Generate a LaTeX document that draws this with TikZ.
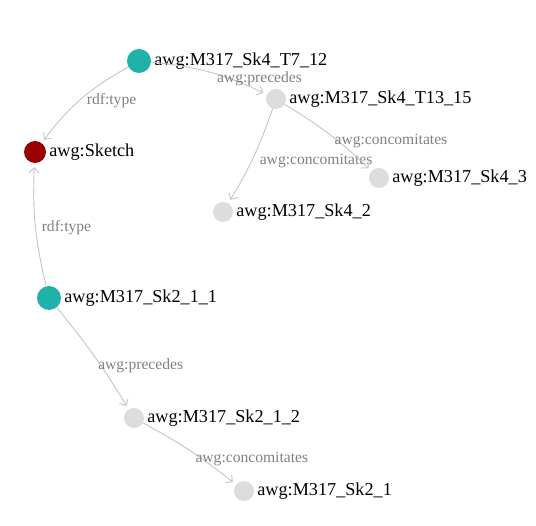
\documentclass[tikz,border=0pt]{standalone}
\usepackage{fontspec}
\setmainfont{Liberation Serif}
\usepackage{tikz}
\usetikzlibrary{arrows.meta,positioning}
\definecolor{awgteal}{HTML}{20B2AA}
\definecolor{awgred}{HTML}{990000}
\definecolor{awggrey}{HTML}{DDDDDD}
\definecolor{awgline}{HTML}{C4C4C4}
\definecolor{awglabel}{HTML}{808080}

\begin{document}
\begin{tikzpicture}[x=1pt,y=-1pt,
  vertex/.style={circle,inner sep=0pt,minimum size=20pt},
  seed/.style={vertex,fill=awgteal,minimum size=24pt},
  classnode/.style={vertex,fill=awgred,minimum size=22pt},
  item/.style={vertex,fill=awggrey},
  nodetext/.style={inner sep=0pt,font=\fontsize{18.2}{20}\selectfont},
  link/.style={draw=awgline,line width=0.9pt,-{Straight Barb[length=5pt,width=10pt]},shorten >=4pt},
  linktext/.style={anchor=base west,inner sep=0pt,xshift=6pt,yshift=-7pt,text=awglabel,font=\fontsize{15.6}{17}\selectfont}]
\useasboundingbox (0,0) rectangle (536,526);
\node[seed] (t7) at (139,61) {};
\node[classnode] (sketch) at (35,152) {};
\node[item] (t13) at (276,99) {};
\node[item] (sk43) at (379,178) {};
\node[item] (sk42) at (223,212) {};
\node[seed] (sk211) at (49,298) {};
\node[item] (sk212) at (134,418) {};
\node[item] (sk21) at (244,491) {};
\node[nodetext,right=3pt of t7] (t7txt) {awg:M317\_Sk4\_T7\_12};
\node[nodetext,right=3pt of sketch] (sketchtxt) {awg:Sketch};
\node[nodetext,right=3pt of t13] (t13txt) {awg:M317\_Sk4\_T13\_15};
\node[nodetext,right=3pt of sk43] (sk43txt) {awg:M317\_Sk4\_3};
\node[nodetext,right=3pt of sk42] (sk42txt) {awg:M317\_Sk4\_2};
\node[nodetext,right=3pt of sk211] (sk211txt) {awg:M317\_Sk2\_1\_1};
\node[nodetext,right=3pt of sk212] (sk212txt) {awg:M317\_Sk2\_1\_2};
\node[nodetext,right=3pt of sk21] (sk21txt) {awg:M317\_Sk2\_1};
\draw[link] (t7) to[bend right=12] node[linktext,yshift=2pt] {rdf:type} (sketch);
\draw[link] (t7) to[bend left=10] node[linktext,yshift=-3pt] {awg:precedes} (t13);
\draw[link] (t13) to[bend left=6] node[linktext] {awg:concomitates} (sk42);
\draw[link] (t13) to[bend left=6] node[linktext,xshift=-2pt,yshift=-3pt] {awg:concomitates} (sk43);
\draw[link] (sk211) to[bend left=8] node[linktext,yshift=1pt] {rdf:type} (sketch);
\draw[link] (sk211) to[bend left=4] node[linktext,xshift=-3pt,yshift=-6pt] {awg:precedes} (sk212);
\draw[link] (sk212) to[bend left=5] node[linktext,xshift=-2pt,yshift=-4pt] {awg:concomitates} (sk21);
\end{tikzpicture}
\end{document}
